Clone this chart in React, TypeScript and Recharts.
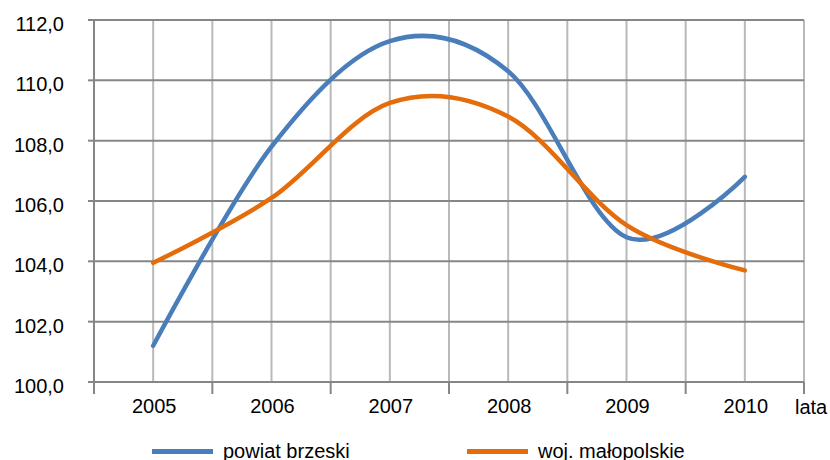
import React from 'react';
import { LineChart, Line, XAxis, YAxis, CartesianGrid, Legend, Label } from 'recharts';

const years = ['2005', '2006', '2007', '2008', '2009', '2010'];
const powiatBrzeski = [101.2, 107.8, 111.3, 110.3, 104.8, 106.8];
const wojMalopolskie = [103.95, 106.1, 109.25, 108.8, 105.2, 103.7];
const yTicks = [100, 102, 104, 106, 108, 110, 112];
const seriesNames = ['powiat brzeski', 'woj. małopolskie'];
const seriesColors = ['#4a7ebb', '#e46c0a'];
const xAxisName = 'lata';

const data = years.map((year, i) => ({
  year,
  brzeski: powiatBrzeski[i],
  malopolskie: wojMalopolskie[i],
}));

const FONT = '"Liberation Sans", Arial, sans-serif';
const GRID_DARK = '#868686';
const GRID_LIGHT = '#b9b9b9';

// cardinal spline (tension 0) - close to Excel's "smoothed line"
const excelSmooth = (context: any) => {
  let x0 = NaN, x1 = NaN, x2 = NaN, y0 = NaN, y1 = NaN, y2 = NaN, pt = 0;
  const k = 1 / 6;
  const seg = (x: number, y: number) => {
    context.bezierCurveTo(
      x1 + k * (x2 - x0), y1 + k * (y2 - y0),
      x2 + k * (x1 - x), y2 + k * (y1 - y),
      x2, y2
    );
  };
  return {
    areaStart() {},
    areaEnd() {},
    lineStart() {
      x0 = x1 = x2 = y0 = y1 = y2 = NaN;
      pt = 0;
    },
    lineEnd() {
      if (pt === 2) context.lineTo(x2, y2);
      else if (pt === 3) seg(x1, y1);
    },
    point(xv: number, yv: number) {
      const x = +xv, y = +yv;
      if (pt === 0) {
        pt = 1;
        context.moveTo(x, y);
      } else if (pt === 1) {
        pt = 2;
        x1 = x; y1 = y;
      } else {
        if (pt === 2) pt = 3;
        seg(x, y);
      }
      x0 = x1; x1 = x2; x2 = x;
      y0 = y1; y1 = y2; y2 = y;
    },
  };
};

const fmt = (v: number) => v.toFixed(1).replace('.', ',');

const YTick = (props: any) => {
  const { x, y, payload } = props;
  return (
    <text x={x} y={y + 11} textAnchor="end" fontSize={20} fontFamily={FONT} fill="#000">
      {fmt(payload.value)}
    </text>
  );
};

const XTick = (props: any) => {
  const { x, y, payload, index, visibleTicksCount } = props;
  const half = payload.offset || 59;
  const isLast = index === visibleTicksCount - 1;
  return (
    <g>
      <line x1={x - half} x2={x - half} y1={y} y2={y + 12} stroke={GRID_DARK} strokeWidth={2} />
      {isLast && <line x1={x + half} x2={x + half} y1={y} y2={y + 12} stroke={GRID_DARK} strokeWidth={2} />}
      <text x={x + 1} y={y + 31} textAnchor="middle" fontSize={20} fontFamily={FONT} fill="#000">
        {payload.value}
      </text>
    </g>
  );
};

const LegendContent = () => {
  const lefts = [152, 467];
  return (
    <div style={{ position: 'relative', width: 830, height: 28, fontFamily: FONT }}>
      {seriesNames.map((name, i) => (
        <div key={name} style={{ position: 'absolute', left: lefts[i], top: 0, height: 38, display: 'flex', alignItems: 'center' }}>
          <div style={{ width: 61, height: 5, background: seriesColors[i] }} />
          <span style={{ marginLeft: 10, fontSize: 20, color: '#000', lineHeight: '20px' }}>{name}</span>
        </div>
      ))}
    </div>
  );
};

export default function App() {
  return (
    <div style={{ position: 'absolute', left: 0, top: 0, width: 830, height: 460, background: '#fff' }}>
      <LineChart
        width={830}
        height={460}
        data={data}
        margin={{ top: 20, right: 26, left: 0, bottom: 0 }}
        style={{ fontFamily: FONT }}
      >
        <CartesianGrid
          horizontal={false}
          stroke={GRID_LIGHT}
          strokeWidth={2}
          verticalCoordinatesGenerator={({ offset }: any) => {
            const n = years.length * 2;
            return Array.from({ length: n + 1 }, (_, i) => offset.left + (offset.width * i) / n);
          }}
        />
        <CartesianGrid vertical={false} stroke={GRID_DARK} strokeWidth={2} />
        <XAxis
          dataKey="year"
          scale="band"
          height={50}
          tickSize={0}
          tickMargin={0}
          tickLine={false}
          axisLine={{ stroke: GRID_DARK, strokeWidth: 2 }}
          tick={<XTick />}
          interval={0}
        >
          <Label value={xAxisName} position="right" offset={-9} fontSize={20} fill="#000" fontFamily={FONT} />
        </XAxis>
        <YAxis
          domain={[100, 112]}
          ticks={yTicks}
          interval={0}
          width={94}
          tickSize={6}
          tickMargin={24}
          axisLine={{ stroke: GRID_DARK, strokeWidth: 2 }}
          tickLine={{ stroke: GRID_DARK, strokeWidth: 2 }}
          tick={<YTick />}
        />
        <Legend verticalAlign="bottom" content={<LegendContent />} wrapperStyle={{ left: 0, width: 830 }} />
        <Line
          dataKey="brzeski"
          name={seriesNames[0]}
          type={excelSmooth as any}
          stroke={seriesColors[0]}
          strokeWidth={4.5}
          strokeLinecap="round"
          dot={false}
          activeDot={false}
          isAnimationActive={false}
        />
        <Line
          dataKey="malopolskie"
          name={seriesNames[1]}
          type={excelSmooth as any}
          stroke={seriesColors[1]}
          strokeWidth={4.5}
          strokeLinecap="round"
          dot={false}
          activeDot={false}
          isAnimationActive={false}
        />
      </LineChart>
    </div>
  );
}
